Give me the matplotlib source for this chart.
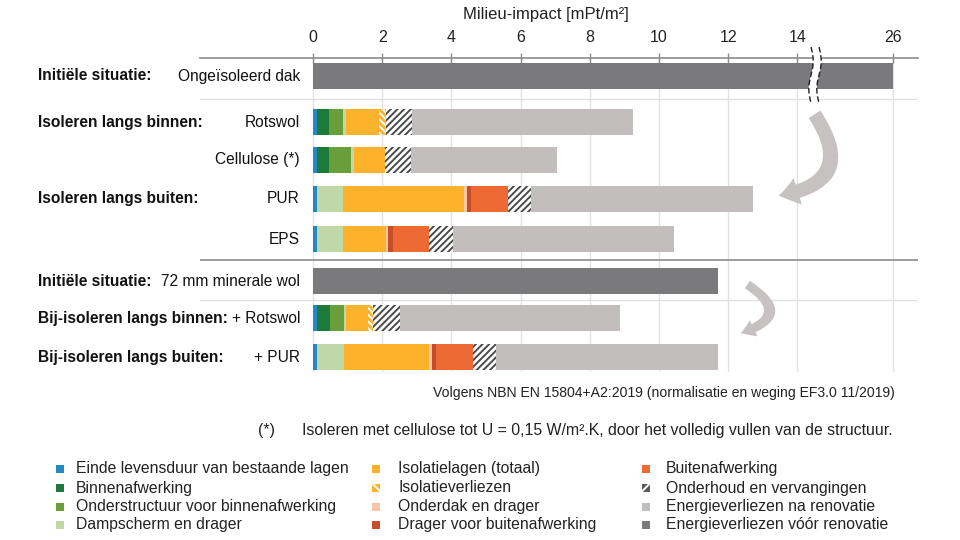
import numpy as np
import matplotlib
matplotlib.use('Agg')
import matplotlib.pyplot as plt
import matplotlib.transforms as mtransforms
from matplotlib.patches import Rectangle, FancyArrowPatch, Polygon
from matplotlib.lines import Line2D
from matplotlib.ticker import NullLocator

plt.rcParams['font.family'] = ['Liberation Sans', 'DejaVu Sans']
plt.rcParams['hatch.linewidth'] = 1.4

# ---------------- data ----------------
group_labels = ['Initiële situatie:', 'Isoleren langs binnen:', '', 'Isoleren langs buiten:', '',
                'Initiële situatie:', 'Bij-isoleren langs binnen:', 'Bij-isoleren langs buiten:']
row_labels = ['Ongeïsoleerd dak', 'Rotswol', 'Cellulose (*)', 'PUR', 'EPS',
              '72 mm minerale wol', '+ Rotswol', '+ PUR']

series_names = ['Einde levensduur van bestaande lagen', 'Binnenafwerking',
                'Onderstructuur voor binnenafwerking', 'Dampscherm en drager',
                'Isolatielagen (totaal)', 'Isolatieverliezen', 'Onderdak en drager',
                'Drager voor buitenafwerking', 'Buitenafwerking', 'Onderhoud en vervangingen',
                'Energieverliezen na renovatie', 'Energieverliezen vóór renovatie']

einde          = [0, 0.125, 0.125, 0.125, 0.125, 0, 0.125, 0.125]
binnenafw      = [0, 0.34, 0.34, 0, 0, 0, 0.365, 0]
onderstructuur = [0, 0.41, 0.63, 0, 0, 0, 0.40, 0]
dampscherm     = [0, 0.09, 0.08, 0.75, 0.75, 0, 0.077, 0.77]
isolatie       = [0, 0.93, 0.91, 3.49, 1.24, 0, 0.625, 2.46]
isolverliezen  = [0, 0.21, 0, 0, 0, 0, 0.145, 0]
onderdak       = [0, 0, 0, 0.08, 0.05, 0, 0, 0.08]
drager_buiten  = [0, 0, 0, 0.12, 0.15, 0, 0, 0.13]
buitenafw      = [0, 0, 0, 1.08, 1.05, 0, 0, 1.07]
onderhoud      = [0, 0.77, 0.76, 0.66, 0.69, 0, 0.77, 0.67]
energie_na     = [0, 6.38, 4.21, 6.41, 6.38, 0, 6.38, 6.40]
energie_voor   = [26.0, 0, 0, 0, 0, 11.71, 0, 0]

xticks = [0, 2, 4, 6, 8, 10, 12, 14, 26]

series = [einde, binnenafw, onderstructuur, dampscherm, isolatie, isolverliezen,
          onderdak, drager_buiten, buitenafw, onderhoud, energie_na, energie_voor]

# ---------------- styles ----------------
colors = ['#2389C4', '#1E7A3A', '#6A9E3A', '#C0D8A8', '#FDB22B', '#FDB22B',
          '#F8C6A8', '#C54F28', '#EE6A35', '#FFFFFF', '#C2BEBE', '#7A797B']
hatches = [None, None, None, None, None, '\\\\\\\\\\', None, None, None, '/////', None, None]
hatch_cols = [None, None, None, None, None, '#FFFFFF', None, None, None, '#4A4A4A', None, None]
legend_colors = ['#2389C4', '#1E7A3A', '#6A9E3A', '#C0D8A8', '#FDB22B', '#FDB22B',
                 '#F8C6A8', '#C54F28', '#EE6A35', '#5A5A5A', '#C2BEBE', '#7A797B']
legend_hatches = [None, None, None, None, None, '\\\\\\', None, None, None, '///', None, None]

row_pos = np.array([0, 1.18, 2.15, 3.15, 4.18, 5.26, 6.21, 7.21])
bar_h = 0.67

W, H = 960, 540
fig = plt.figure(figsize=(9.6, 5.4), dpi=100)

def fx(px):
    return np.asarray(px) / W

def fy(py):
    return 1 - np.asarray(py) / H

ax = fig.add_axes([fx(200), fy(372), fx(918) - fx(200), (372 - 58) / H])

BRK = 14.5
K = 0.1967

def fwd(v):
    v = np.asarray(v, dtype=float)
    return np.where(v <= BRK, v, BRK + (v - BRK) * K)

def inv(v):
    v = np.asarray(v, dtype=float)
    return np.where(v <= BRK, v, BRK + (v - BRK) / K)

ax.set_xscale('function', functions=(fwd, inv))

left = np.zeros(len(row_pos))
for vals, c, h, hc in zip(series, colors, hatches, hatch_cols):
    vals = np.asarray(vals, dtype=float)
    if h is None:
        ax.barh(row_pos, vals, left=left, height=bar_h, color=c, linewidth=0, zorder=3)
    else:
        ax.barh(row_pos, vals, left=left, height=bar_h, facecolor=c, edgecolor=hc,
                hatch=h, linewidth=0, zorder=3)
    left = left + vals

ax.set_xlim(-3.266, float(inv(17.49)))
ax.set_ylim((372 - 76) / 39.0, (58 - 76) / 39.0)

ax.xaxis.tick_top()
ax.set_xticks(xticks)
ax.set_xticklabels([str(t) for t in xticks], fontsize=11.5, color='#222222')
ax.xaxis.set_minor_locator(NullLocator())
ax.tick_params(axis='x', direction='inout', length=7, width=1, color='#8C8C8C', pad=6)
ax.set_yticks([])
for s in ['left', 'right', 'bottom']:
    ax.spines[s].set_visible(False)
ax.spines['top'].set_color('#8C8C8C')
ax.spines['top'].set_linewidth(1.2)
ax.grid(axis='x', color='#E2E2E2', linewidth=1)
ax.set_axisbelow(True)

# horizontal separators
ax.axhline((row_pos[0] + row_pos[1]) / 2, color='#E2E2E2', lw=1, zorder=1)
ax.axhline((row_pos[5] + row_pos[6]) / 2, color='#E2E2E2', lw=1, zorder=1)
ax.axhline((row_pos[4] + row_pos[5]) / 2, color='#8C8C8C', lw=1.2, zorder=1)

# row labels
tr = mtransforms.blended_transform_factory(fig.transFigure, ax.transData)
for y, g, r in zip(row_pos, group_labels, row_labels):
    if g:
        ax.text(fx(38), y, g, transform=tr, ha='left', va='center', fontsize=11.2,
                fontweight='bold', color='#111111')
    ax.text(fx(300), y, r, transform=tr, ha='right', va='center', fontsize=11.2, color='#111111')

# title
fig.text(fx(546), fy(15), 'Milieu-impact [mPt/m²]', ha='center', va='center', fontsize=12,
         color='#222222')

# axis break marks
yy = np.linspace(47, 103, 60)
wave = 2.2 * np.sin((yy - 47) / 56 * 2 * np.pi)
xl = 811 + wave
xr = 819 + wave
poly = np.column_stack([np.concatenate([xl, xr[::-1]]), np.concatenate([yy, yy[::-1]])])
fig.add_artist(Polygon(np.column_stack([fx(poly[:, 0]), fy(poly[:, 1])]), closed=True,
                       facecolor='white', edgecolor='none', transform=fig.transFigure, zorder=5))
for xs in (xl, xr):
    fig.add_artist(Line2D(fx(xs), fy(yy), transform=fig.transFigure, color='#222222',
                          lw=1, linestyle=(0, (4, 2)), zorder=6))

# curved arrows
arrow_col = '#C6C2C2'
a1 = FancyArrowPatch((fx(813), fy(112)), (fx(776), fy(196)), transform=fig.transFigure,
                     connectionstyle='arc3,rad=-0.8',
                     arrowstyle='simple,head_length=14,head_width=20,tail_width=10',
                     mutation_scale=1, color=arrow_col, lw=0, zorder=4)
a2 = FancyArrowPatch((fx(745), fy(283)), (fx(738), fy(334)), transform=fig.transFigure,
                     connectionstyle='arc3,rad=-1.1',
                     arrowstyle='simple,head_length=10,head_width=13,tail_width=6.5',
                     mutation_scale=1, color=arrow_col, lw=0, zorder=4)
fig.add_artist(a1)
fig.add_artist(a2)

# footnotes
fig.text(fx(895), fy(393), 'Volgens NBN EN 15804+A2:2019 (normalisatie en weging EF3.0 11/2019)',
         ha='right', va='center', fontsize=10.1, color='#222222')
fig.text(fx(258), fy(430), '(*)', ha='left', va='center', fontsize=11.4, color='#222222')
fig.text(fx(302), fy(430),
         'Isoleren met cellulose tot U = 0,15 W/m².K, door het volledig vullen van de structuur.',
         ha='left', va='center', fontsize=11.4, color='#222222')

# legend
col_marker_x = [56, 372, 642]
col_text_x = [76, 398, 666]
row_y = [469, 488, 507, 525]
for i, name in enumerate(series_names):
    col, row = divmod(i, 4)
    mx, ty = col_marker_x[col], row_y[row]
    kw = dict(facecolor=legend_colors[i], edgecolor='none', lw=0)
    if legend_hatches[i] is not None:
        kw = dict(facecolor=legend_colors[i], edgecolor='#FFFFFF', hatch=legend_hatches[i], lw=0)
    fig.add_artist(Rectangle((fx(mx), fy(ty + 3.5)), 7.5 / W, 7.5 / H, transform=fig.transFigure, **kw))
    fig.text(fx(col_text_x[col]), fy(ty), name, ha='left', va='center', fontsize=11.3,
             color='#222222')

fig.savefig('out.png', dpi=100)
